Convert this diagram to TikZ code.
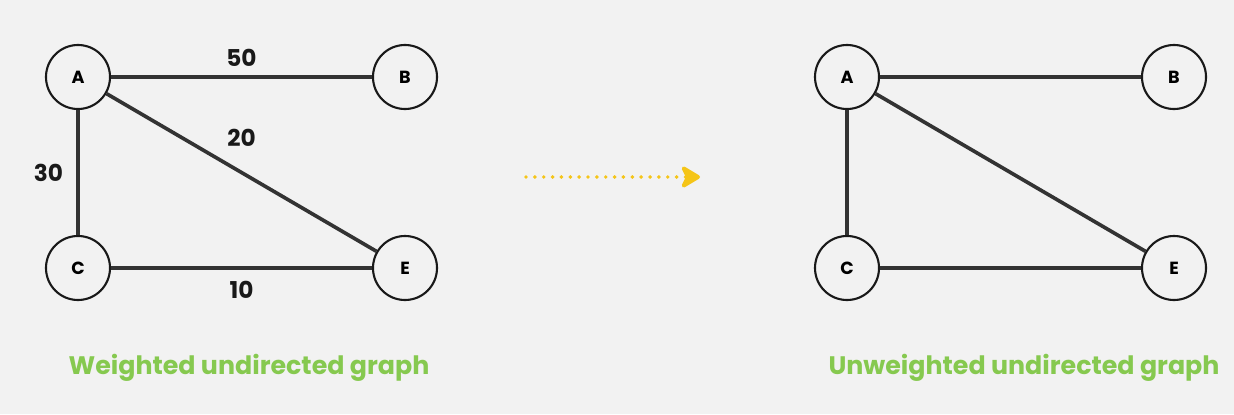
\documentclass[tikz,border=0pt]{standalone}
\usepackage{fontspec}
\setmainfont{Poppins}
\usepackage{tikz}
\usetikzlibrary{arrows.meta, positioning}
\definecolor{bgcol}{HTML}{F2F2F2}
\definecolor{inkcol}{HTML}{333333}
\definecolor{capcol}{HTML}{86C94F}
\definecolor{arrcol}{HTML}{F5C518}
\tikzset{
  vertex/.style={circle, draw=black!90, line width=1.5pt, fill=bgcol, minimum size=1.6cm, inner sep=0pt, font=\fontsize{12.5}{14}\selectfont\bfseries},
  edge/.style={draw=inkcol, line width=2.6pt},
  weight/.style={font=\fontsize{16.5}{18}\selectfont\bfseries, text=black!90},
  caption/.style={font=\fontsize{18}{21}\selectfont\bfseries, text=capcol},
  goarr/.style={arrcol, line width=2.8pt, line cap=round, dash pattern=on 0pt off 6.3pt,
    -{Stealth[length=16pt, width=19pt, inset=4.5pt, round]}},
}

\begin{document}
\begin{tikzpicture}[x=0.025cm, y=-0.025cm]
  \fill[bgcol] (0,0) rectangle (1234,414);

  % Weighted graph
  \node[vertex] (wA) at (78,77) {A};
  \node[vertex] (wB) at (405,77) {B};
  \node[vertex] (wC) at (78,268) {C};
  \node[vertex] (wE) at (405,268) {E};

  \draw[edge] (wA) -- node[weight, above=3pt] (l50) {50} (wB);
  \draw[edge] (wA) -- node[weight, above=14pt] (l20) {20} (wE);
  \draw[edge] (wA) -- node[weight, left=6pt] (l30) {30} (wC);
  \draw[edge] (wC) -- node[weight, below=5pt] (l10) {10} (wE);

  \node[caption] (wcap) at (249,368) {Weighted undirected graph};

  % Arrow
  \coordinate (go1) at (526,177);
  \coordinate (go2) at (700,177);
  \draw[goarr] (go1) -- (go2);

  % Unweighted graph
  \node[vertex] (uA) at (847,77) {A};
  \node[vertex] (uB) at (1174,77) {B};
  \node[vertex] (uC) at (847,268) {C};
  \node[vertex] (uE) at (1174,268) {E};

  \draw[edge] (uA) -- (uB);
  \draw[edge] (uA) -- (uE);
  \draw[edge] (uA) -- (uC);
  \draw[edge] (uC) -- (uE);

  \node[caption] (ucap) at (1024,368) {Unweighted undirected graph};
\end{tikzpicture}
\end{document}
